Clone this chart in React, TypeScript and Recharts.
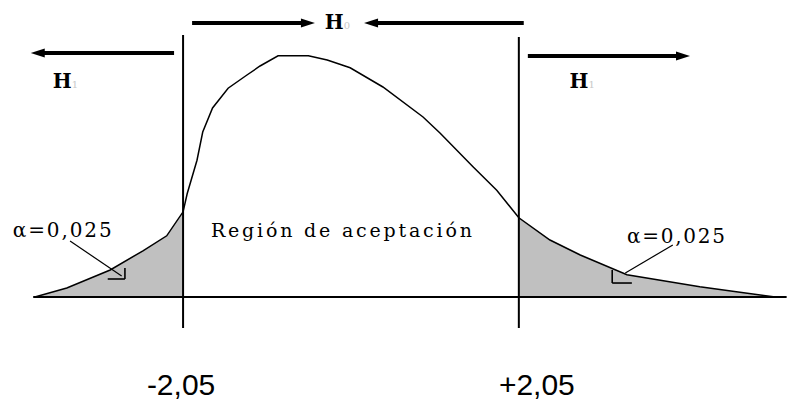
import React from 'react'
import { ComposedChart, Line, Area, XAxis, YAxis, ReferenceLine, ReferenceDot } from 'recharts'

// curve: z score and height of the density
const zValues = [-3.86, -3.47, -2.94, -2.54, -2.25, -2.05, -2.0, -1.88, -1.81, -1.69, -1.5, -1.27, -1.11, -0.89, -0.52, -0.29, -0.01, 0.39, 0.88, 1.09, 1.49, 1.78, 2.05, 2.43, 2.8, 3.37, 4.26, 4.75, 5.18]
const density = [0, 0.015, 0.045, 0.077, 0.102, 0.142, 0.172, 0.228, 0.275, 0.315, 0.348, 0.37, 0.385, 0.402, 0.402, 0.395, 0.382, 0.35, 0.3, 0.273, 0.217, 0.178, 0.132, 0.095, 0.07, 0.037, 0.017, 0.008, 0]

const criticalValues = [-2.05, 2.05]
const criticalLabels = ['-2,05', '+2,05']
const alphaLabel = 'α=0,025'
const acceptLabel = 'Región de aceptación'

const data = zValues.map((z, i) => ({
  z,
  d: density[i],
  left: z <= criticalValues[0] ? density[i] : null,
  right: z >= criticalValues[1] ? density[i] : null,
}))

const SERIF = "'DejaVu Serif', 'Liberation Serif', serif"

function CritTick({ x, y, payload }: any) {
  const i = criticalValues.indexOf(payload.value)
  return (
    <text
      x={x + (i === 0 ? -2 : 18)}
      y={y + 90}
      textAnchor="middle"
      fontFamily="'Liberation Sans', Arial, sans-serif"
      fontSize={30}
      fill="#000"
    >
      {criticalLabels[i]}
    </text>
  )
}

const arrowShape = (p: any) => {
  const { x1, y1, x2, y2 } = p
  const dir = Math.sign(x2 - x1)
  return (
    <g>
      <line x1={x1} y1={y1} x2={x2 - dir * 8} y2={y2} stroke="#000" strokeWidth={4} />
      <polygon
        points={`${x2},${y2} ${x2 - dir * 14},${y2 - 4.5} ${x2 - dir * 14},${y2 + 4.5}`}
        fill="#000"
      />
    </g>
  )
}

const hLabel = (sub: string) => (p: any) => (
  <text x={p.cx} y={p.cy} fontFamily={SERIF} fontWeight="bold" fontSize={20} fill="#000">
    H
    <tspan fontSize={10} fontWeight="normal" fill="#c8c8c8">{sub}</tspan>
  </text>
)

const stretchedText = (label: string, width: number, size: number) => (p: any) => (
  <text
    x={p.cx}
    y={p.cy}
    fontFamily={SERIF}
    fontSize={size}
    fill="#000"
    textLength={width}
    lengthAdjust="spacing"
  >
    {label}
  </text>
)

const thin = { stroke: '#000', strokeWidth: 1.2, ifOverflow: 'visible' as const }

export default function App() {
  return (
    <div style={{ position: 'absolute', left: 0, top: 0, width: 789, height: 401, background: '#fff' }}>
      <ComposedChart
        width={789}
        height={401}
        data={data}
        margin={{ top: 27, right: 4, bottom: 0, left: 7 }}
      >
        <XAxis
          dataKey="z"
          type="number"
          domain={[-4.2, 5.3]}
          allowDataOverflow
          ticks={criticalValues}
          interval={0}
          height={104}
          axisLine={false}
          tickLine={false}
          tick={<CritTick />}
        />
        <YAxis hide type="number" domain={[0, 0.45]} allowDataOverflow />

        <Area
          dataKey="left"
          type="linear"
          stroke="none"
          fill="#c0c0c0"
          fillOpacity={1}
          isAnimationActive={false}
        />
        <Area
          dataKey="right"
          type="linear"
          stroke="none"
          fill="#c0c0c0"
          fillOpacity={1}
          isAnimationActive={false}
        />

        {/* baseline and critical lines */}
        <ReferenceLine
          segment={[{ x: -3.88, y: 0 }, { x: 5.32, y: 0 }]}
          stroke="#000"
          strokeWidth={2}
          ifOverflow="visible"
        />
        <ReferenceLine
          segment={[{ x: criticalValues[0], y: 0.4367 }, { x: criticalValues[0], y: -0.0517 }]}
          stroke="#000"
          strokeWidth={2}
          ifOverflow="visible"
        />
        <ReferenceLine
          segment={[{ x: criticalValues[1], y: 0.4333 }, { x: criticalValues[1], y: -0.0517 }]}
          stroke="#000"
          strokeWidth={2}
          ifOverflow="visible"
        />

        <Line
          dataKey="d"
          type="linear"
          stroke="#000"
          strokeWidth={1.5}
          dot={false}
          isAnimationActive={false}
        />

        {/* hypothesis arrows */}
        <ReferenceLine segment={[{ x: -2.16, y: 0.4067 }, { x: -3.91, y: 0.4067 }]} ifOverflow="visible" shape={arrowShape} />
        <ReferenceLine segment={[{ x: -1.94, y: 0.4567 }, { x: -0.44, y: 0.4567 }]} ifOverflow="visible" shape={arrowShape} />
        <ReferenceLine segment={[{ x: 2.11, y: 0.4567 }, { x: 0.16, y: 0.4567 }]} ifOverflow="visible" shape={arrowShape} />
        <ReferenceLine segment={[{ x: 2.16, y: 0.4017 }, { x: 4.14, y: 0.4017 }]} ifOverflow="visible" shape={arrowShape} />

        <ReferenceDot x={-3.64} y={0.348} ifOverflow="visible" shape={hLabel('1')} />
        <ReferenceDot x={-0.32} y={0.4467} ifOverflow="visible" shape={hLabel('0')} />
        <ReferenceDot x={2.67} y={0.348} ifOverflow="visible" shape={hLabel('1')} />

        {/* alpha labels with leaders */}
        <ReferenceDot x={-4.13} y={0.1} ifOverflow="visible" shape={stretchedText(alphaLabel, 99, 20)} />
        <ReferenceLine segment={[{ x: -3.43, y: 0.0933 }, { x: -2.8, y: 0.035 }]} {...thin} />
        <ReferenceLine segment={[{ x: -2.76, y: 0.0483 }, { x: -2.76, y: 0.03 }]} {...thin} strokeWidth={1.6} />
        <ReferenceLine segment={[{ x: -2.97, y: 0.03 }, { x: -2.76, y: 0.03 }]} {...thin} strokeWidth={1.6} />

        <ReferenceDot x={3.37} y={0.09} ifOverflow="visible" shape={stretchedText(alphaLabel, 98, 20)} />
        <ReferenceLine segment={[{ x: 3.93, y: 0.0867 }, { x: 3.35, y: 0.04 }]} {...thin} />
        <ReferenceLine segment={[{ x: 3.19, y: 0.045 }, { x: 3.19, y: 0.0233 }]} {...thin} strokeWidth={1.6} />
        <ReferenceLine segment={[{ x: 3.19, y: 0.0233 }, { x: 3.43, y: 0.0233 }]} {...thin} strokeWidth={1.6} />

        <ReferenceDot x={-1.71} y={0.1} ifOverflow="visible" shape={stretchedText(acceptLabel, 261, 19)} />
      </ComposedChart>
    </div>
  )
}
